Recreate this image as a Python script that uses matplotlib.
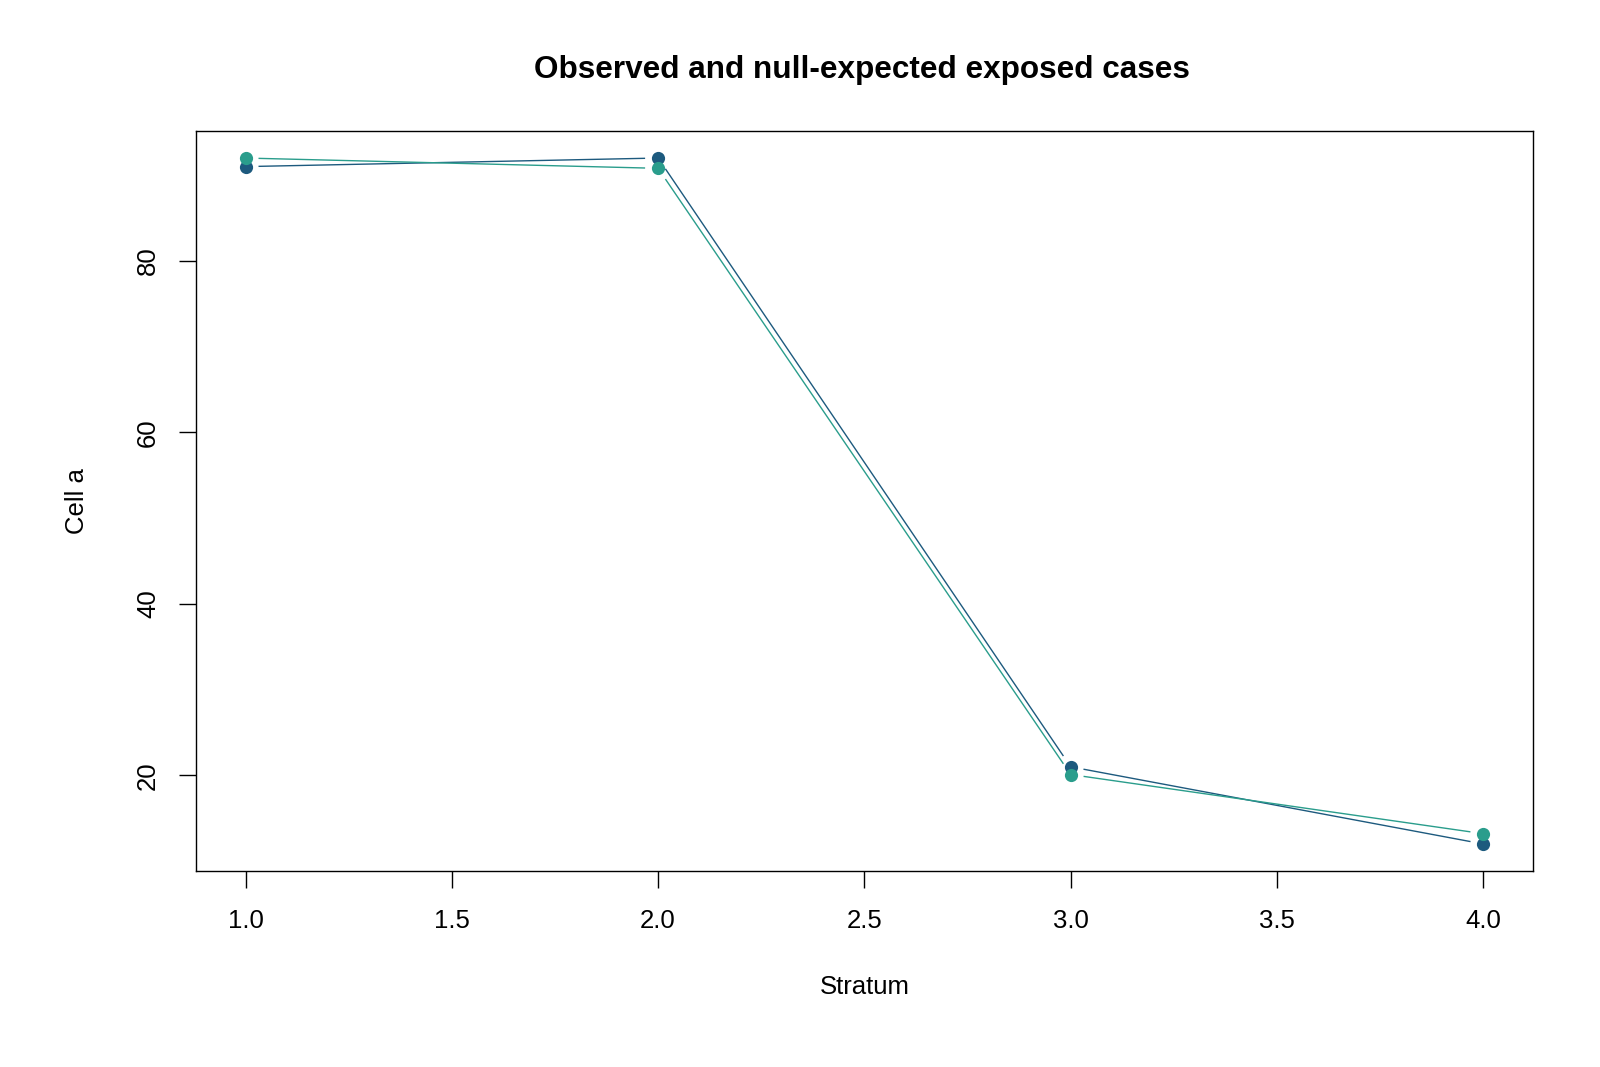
import matplotlib
matplotlib.use("Agg")
import matplotlib.pyplot as plt
import numpy as np

plt.rcParams['font.family'] = ['Liberation Sans', 'DejaVu Sans']

stratum = [1, 2, 3, 4]
observed = [91, 92, 21, 12]
expected = [92.0, 90.8, 20.1, 13.2]
x_ticks = [1.0, 1.5, 2.0, 2.5, 3.0, 3.5, 4.0]
x_ticklabels = ["1.0", "1.5", "2.0", "2.5", "3.0", "3.5", "4.0"]
y_ticks = [20, 40, 60, 80]

col_obs = "#1D5A7E"
col_exp = "#2A9D8C"

fig = plt.figure(figsize=(16, 10.67), dpi=100)
ax = fig.add_axes([0.1225, 0.1833, 0.958 - 0.1225, 0.8776 - 0.1833])
ax.set_xlim(0.88, 4.12)
ax.set_ylim(8.8, 95.2)
fig.canvas.draw()

def type_b(ax, xs, ys, color, gap=13):
    trans = ax.transData
    inv = trans.inverted()
    pts = trans.transform(np.column_stack([xs, ys]))
    for i in range(len(pts) - 1):
        p0, p1 = pts[i], pts[i + 1]
        d = p1 - p0
        L = np.hypot(*d)
        if L <= 2 * gap:
            continue
        u = d / L
        a = inv.transform(p0 + u * gap)
        b = inv.transform(p1 - u * gap)
        ax.plot([a[0], b[0]], [a[1], b[1]], color=color, lw=1.0, solid_capstyle='butt')
    ax.plot(xs, ys, linestyle='none', marker='o', ms=9.5, color=color, mec=color, mew=0)

type_b(ax, stratum, observed, col_obs)
type_b(ax, stratum, expected, col_exp)

ax.set_xticks(x_ticks)
ax.set_xticklabels(x_ticklabels, fontsize=18.5)
ax.set_yticks(y_ticks)
ax.set_yticklabels([str(v) for v in y_ticks], fontsize=18.5, rotation=90, va='center')
ax.tick_params(axis='x', direction='out', length=12, width=1, pad=15)
ax.tick_params(axis='y', direction='out', length=12, width=1, pad=14)
for s in ax.spines.values():
    s.set_linewidth(1)

ax.set_xlabel("Stratum", fontsize=18.5, labelpad=30)
ax.set_ylabel("Cell a", fontsize=18.5, labelpad=34)
fig.text(0.539, 1 - 70 / 1067, "Observed and null-expected exposed cases",
         ha='center', va='center', fontsize=22.7, fontweight='bold')

fig.savefig("out.png", dpi=100)
